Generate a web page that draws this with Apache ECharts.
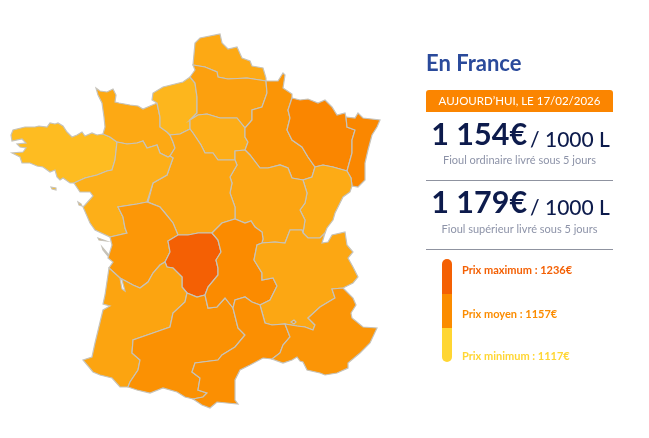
<!DOCTYPE html>
<html>
<head>
<meta charset="utf-8">
<style>
html, body { margin: 0; padding: 0; background: #fff; }
#main { width: 649px; height: 438px; }
</style>
<script src="https://cdn.jsdelivr.net/npm/echarts@6/dist/echarts.min.js"></script>
</head>
<body>
<div id="main"></div>
<script>
const regionNames = ['Bretagne', 'Basse-Normandie', 'Haute-Normandie', 'Nord-Pas-de-Calais', 'Picardie', 'Ile-de-France',
  'Champagne-Ardenne', 'Lorraine', 'Alsace', 'Franche-Comte', 'Bourgogne', 'Centre', 'Pays de la Loire',
  'Poitou-Charentes', 'Limousin', 'Aquitaine', 'Midi-Pyrenees', 'Auvergne', 'Rhone-Alpes', 'Languedoc-Roussillon', 'PACA'];
const regionPrices = [1131, 1141, 1134, 1141, 1146, 1139, 1152, 1168, 1165, 1140, 1143, 1143, 1138, 1151, 1236, 1144, 1154, 1158, 1142, 1155, 1152];

const dateLabel = 'AUJOURD\u2019HUI, LE 17/02/2026';
const fuelPrices = ['1 154\u20ac', '1 179\u20ac'];
const fuelUnit = '/ 1000 L';
const fuelLabels = ['Fioul ordinaire livr\u00e9 sous 5 jours', 'Fioul sup\u00e9rieur livr\u00e9 sous 5 jours'];
const scaleLabels = ['Prix maximum', 'Prix moyen', 'Prix minimum'];
const scaleValues = [1236, 1157, 1117];
const scaleColors = ['#f46004', '#fb8c00', '#ffd633'];

// frontieres de la carte, releve du fond de carte
const arcs = {
  bNorth: [[103,134],[97,135],[92,133],[85,136],[82,132],[77,135],[72,137],[67,132],[63,126],[58,123],[55,124],[50,123],[47,127],[39,126],[35,127],[25,127],[13,130],[11,135],[12,141],[22,139],[26,143],[17,144],[20,147],[26,148],[23,152],[12,153],[20,157],[22,163],[30,163],[37,166],[43,167],[50,172],[55,170],[57,177],[60,180],[63,178],[70,183],[74,183]],
  bnBret: [[103,134],[110,137],[117,142]],
  brPl: [[74,183],[85,178],[97,175],[107,171],[112,170],[115,160],[117,142]],
  bnCoast: [[103,134],[105,127],[104,117],[102,103],[98,95],[96,88],[100,91],[107,92],[113,89],[116,95],[115,102],[119,103],[130,105],[138,106],[143,109],[150,106],[157,103]],
  bnHn: [[157,103],[160,117],[160,127],[167,132],[170,135]],
  bnCentre: [[170,156],[175,148],[173,142],[170,135]],
  bnPl: [[117,142],[127,144],[137,143],[143,141],[147,148],[157,145],[160,153],[168,157],[170,156]],
  hnCoast: [[157,103],[152,100],[153,93],[163,87],[183,82],[190,77]],
  hnPic: [[190,77],[195,83],[197,97],[197,113],[190,120]],
  hnIdf: [[190,120],[190,129]],
  hnCentre: [[170,135],[180,134],[190,129]],
  picCoast: [[190,77],[195,70],[193,65]],
  nordPic: [[193,65],[205,67],[217,72],[218,77],[228,79],[247,78],[266,81]],
  nordCoast: [[193,65],[195,43],[200,38],[220,34],[222,43],[228,49],[237,47],[242,58],[250,61],[252,66],[263,68],[266,78],[266,81]],
  picChamp: [[266,81],[267,93],[262,107],[252,110],[252,120],[245,128]],
  picIdf: [[190,120],[198,115],[207,114],[220,118],[237,118],[245,128]],
  idfChamp: [[245,128],[245,137],[248,142],[245,150]],
  idfBourg: [[245,150],[235,151],[235,160]],
  idfCentre: [[190,129],[193,133],[201,145],[205,153],[213,153],[218,160],[235,160]],
  champN: [[266,81],[278,81],[283,73],[285,75],[283,88],[292,94],[292,98]],
  champLor: [[292,98],[288,110],[290,118],[287,130],[292,140],[302,147],[308,157],[315,167]],
  champLow: [[315,167],[312,177],[303,180]],
  champBourg: [[303,180],[292,178],[288,168],[280,165],[268,168],[260,168],[250,155],[245,150]],
  lorN: [[292,98],[300,100],[308,99],[318,103],[325,100],[332,107],[337,115],[345,113],[346,117]],
  lorAl: [[346,117],[347,127],[355,130],[352,140],[352,153],[347,171]],
  lorFc: [[315,167],[323,165],[333,167],[347,171]],
  alOut: [[346,117],[355,118],[358,113],[363,118],[380,120],[377,127],[372,135],[368,150],[365,163],[365,180],[358,187],[352,186]],
  alFc: [[347,171],[351,178],[352,186]],
  fcOut: [[352,186],[350,192],[343,197],[338,207],[335,213],[333,220],[327,228],[325,233]],
  fcRa: [[303,233],[308,238],[320,238],[325,233]],
  fcBourg: [[303,180],[307,193],[305,203],[300,210],[305,220],[303,233]],
  bourgRa: [[262,243],[275,242],[285,243],[290,230],[302,230],[303,233]],
  bourgAuv: [[235,219],[245,223],[251,221],[255,227],[262,232],[263,239],[262,243]],
  centreBourg: [[235,160],[237,165],[230,177],[232,183],[230,193],[235,207],[235,219]],
  plCentre: [[170,156],[173,158],[167,175],[153,183],[147,202]],
  centreAuv: [[212,233],[222,223],[235,219]],
  centreLim: [[212,233],[198,233],[188,235],[178,235]],
  centrePoit: [[178,235],[173,223],[165,213],[160,207],[148,202],[147,202]],
  plCoast: [[74,183],[80,192],[90,192],[93,196],[85,205],[83,207],[90,223],[95,230],[110,237]],
  plPoit: [[147,202],[137,204],[118,207],[123,217],[125,228],[127,233],[110,237]],
  poitCoast: [[110,237],[112,245],[108,258],[113,262],[109,268]],
  pa1: [[109,268],[120,278]],
  gironde: [[120,278],[122,289],[125,291],[122,280],[120,278]],
  pa2: [[120,278],[133,285],[140,288],[148,282],[153,273],[160,265],[165,262]],
  poitLim: [[178,235],[168,241],[170,252],[165,262]],
  limAq: [[165,262],[167,267],[173,268],[182,277],[182,287],[187,293]],
  limMidi: [[187,293],[197,297],[205,295]],
  limAuv: [[205,295],[208,287],[218,275],[218,268],[216,260],[221,252],[218,240],[212,233]],
  aqCoast: [[128,387],[120,387],[112,378],[100,375],[93,372],[83,360],[92,357],[95,343],[103,310],[110,306],[103,304],[105,295],[109,268]],
  aqMidi: [[187,293],[185,302],[173,313],[170,327],[153,333],[133,340],[132,353],[140,360],[138,370],[130,382],[128,387]],
  midiAuv: [[205,295],[208,308],[217,307],[225,298],[233,308]],
  midiLang: [[233,308],[238,328],[245,335],[235,347],[222,355],[218,360],[195,363],[192,372],[200,378],[198,390],[207,393],[203,397],[193,399]],
  midiPyr: [[193,399],[185,397],[177,392],[163,388],[150,393],[137,390],[128,387]],
  auvLang: [[233,308],[235,300],[245,297],[252,302],[260,305]],
  auvRa: [[262,243],[257,245],[254,260],[262,273],[262,280],[273,278],[277,286],[270,300],[260,305]],
  raLang: [[260,305],[265,323],[272,325],[285,324]],
  raPaca: [[285,324],[297,326],[305,327],[313,330],[315,325],[308,318],[320,307],[335,298],[332,289],[343,288]],
  raOut: [[325,233],[322,243],[328,242],[332,235],[345,232],[347,245],[353,252],[348,258],[353,267],[358,277],[353,283],[343,288]],
  langPaca: [[285,324],[290,337],[283,345],[280,353],[272,359]],
  langCoast: [[272,359],[263,358],[250,365],[240,370],[235,380],[235,400],[238,404],[227,403],[217,402],[210,408],[202,405],[193,399]],
  pacaCoast: [[272,359],[283,363],[292,360],[297,357],[300,361],[303,362],[307,370],[320,373],[325,375],[337,373],[348,368],[348,363],[360,353],[370,343],[377,328],[363,327],[352,318],[351,313],[356,305],[353,298],[345,290],[343,288]]
};
const islands = {
  'Bretagne': [[[51,187],[56,188],[56,190],[52,189],[51,187]]],
  'Pays de la Loire': [[[78,202],[81,204],[82,206],[79,205],[78,202]]],
  'Poitou-Charentes': [[[98,238],[106,241],[105,242],[99,240],[98,238]], [[102,247],[108,254],[108,256],[103,250],[102,247]]],
  'PACA': [[[291,322],[294,320],[296,322],[294,324],[291,322]]]
};
// '-' = arc parcouru a l'envers
const regionRings = {
  'Bretagne': 'bNorth brPl -bnBret',
  'Basse-Normandie': 'bnCoast bnHn -bnCentre -bnPl -bnBret',
  'Haute-Normandie': 'hnCoast hnPic hnIdf -hnCentre -bnHn',
  'Nord-Pas-de-Calais': 'nordCoast -nordPic',
  'Picardie': 'picCoast nordPic picChamp -picIdf -hnPic',
  'Ile-de-France': 'picIdf idfChamp idfBourg -idfCentre -hnIdf',
  'Champagne-Ardenne': 'champN champLor champLow champBourg -idfChamp -picChamp',
  'Lorraine': 'lorN lorAl -lorFc -champLor',
  'Alsace': 'alOut -alFc -lorAl',
  'Franche-Comte': 'lorFc alFc fcOut -fcRa -fcBourg -champLow',
  'Bourgogne': 'idfBourg centreBourg bourgAuv bourgRa -fcBourg champBourg',
  'Centre': 'idfCentre centreBourg -centreAuv centreLim centrePoit -plCentre bnCentre hnCentre',
  'Pays de la Loire': 'brPl bnPl plCentre plPoit -plCoast',
  'Poitou-Charentes': '-plPoit -centrePoit poitLim -pa2 -pa1 -poitCoast',
  'Limousin': 'centreLim poitLim limAq limMidi limAuv',
  'Aquitaine': 'pa1 gironde pa2 limAq aqMidi aqCoast',
  'Midi-Pyrenees': 'limMidi midiAuv midiLang midiPyr -aqMidi',
  'Auvergne': 'centreAuv bourgAuv auvRa -auvLang -midiAuv limAuv',
  'Rhone-Alpes': 'bourgRa fcRa raOut -raPaca -raLang -auvRa',
  'Languedoc-Roussillon': 'auvLang raLang langPaca langCoast -midiLang',
  'PACA': 'raPaca -pacaCoast -langPaca'
};

function buildRing(spec) {
  let ring = [];
  spec.split(' ').forEach(function (key) {
    let pts = key[0] === '-' ? arcs[key.slice(1)].slice().reverse() : arcs[key];
    ring = ring.concat(ring.length ? pts.slice(1) : pts);
  });
  return ring;
}

const franceGeo = {
  type: 'FeatureCollection',
  features: regionNames.map(function (name) {
    let polys = [[buildRing(regionRings[name])]];
    (islands[name] || []).forEach(function (r) { polys.push([r]); });
    return {
      type: 'Feature',
      properties: { name: name },
      geometry: { type: 'MultiPolygon', coordinates: polys }
    };
  })
};
echarts.registerMap('france', franceGeo);

const chart = echarts.init(document.getElementById('main'));

const panelX = 426, panelW = 187, panelMid = 519.5;
const priceRows = [135, 203];
const subRows = [160, 229];
const lineRows = [180.5, 249.5];
const scaleTextY = [270.5, 314.5, 356.5];
const scaleBarY = [259, 294, 328, 362];

let graphics = [
  { type: 'text', left: panelX, top: 53, style: { text: 'En France', font: '700 22px Lato', fill: '#2a4a9b' } },
  { type: 'rect', shape: { x: panelX, y: 90, width: panelW, height: 22, r: [3, 3, 0, 0] }, style: { fill: '#fb8500' } },
  { type: 'text', style: { x: panelMid, y: 101, text: dateLabel, font: '11.5px Lato', fill: '#fff', align: 'center', verticalAlign: 'middle' } }
];
fuelPrices.forEach(function (p, i) {
  graphics.push({
    type: 'text',
    style: {
      x: panelMid + 1, y: priceRows[i], align: 'center', verticalAlign: 'middle',
      text: '{a|' + p + '}{b|' + fuelUnit + '}',
      rich: {
        a: { font: '700 30.5px Lato', fill: '#0d1b4c', verticalAlign: 'bottom' },
        b: { font: '500 21px Lato', fill: '#0d1b4c', verticalAlign: 'bottom', padding: [0, 0, 0, 3] }
      }
    }
  });
  graphics.push({ type: 'text', style: { x: panelMid, y: subRows[i], text: fuelLabels[i], font: '11px Lato', fill: '#8d93a8', align: 'center', verticalAlign: 'middle' } });
  graphics.push({ type: 'line', shape: { x1: panelX, y1: lineRows[i], x2: panelX + panelW, y2: lineRows[i] }, style: { stroke: '#8f93a0', lineWidth: 1 } });
});
scaleLabels.forEach(function (label, i) {
  let r = i === 0 ? [5, 5, 0, 0] : (i === 2 ? [0, 0, 5, 5] : 0);
  graphics.push({ type: 'rect', shape: { x: 442, y: scaleBarY[i], width: 10, height: scaleBarY[i + 1] - scaleBarY[i], r: r }, style: { fill: scaleColors[i] } });
  graphics.push({ type: 'text', style: { x: 462, y: scaleTextY[i], text: label + ' : ' + scaleValues[i] + '\u20ac', font: '700 11px Lato', fill: scaleColors[i], verticalAlign: 'middle' } });
});

chart.setOption({
  animation: false,
  visualMap: {
    show: false,
    min: 1117,
    max: 1236,
    seriesIndex: 0,
    inRange: { color: ['#ffd633', '#fb8c00', '#f87600', '#f46004'] }
  },
  series: [{
    type: 'map',
    map: 'france',
    projection: {
      project: function (p) { return p; },
      unproject: function (p) { return p; }
    },
    layoutCenter: [195.5, 221],
    layoutSize: 374,
    silent: true,
    label: { show: false },
    emphasis: { disabled: true },
    select: { disabled: true },
    itemStyle: { borderColor: '#c6c3ba', borderWidth: 1.2 },
    data: regionNames.map(function (n, i) { return { name: n, value: regionPrices[i] }; })
  }],
  graphic: graphics
});
</script>
</body>
</html>
